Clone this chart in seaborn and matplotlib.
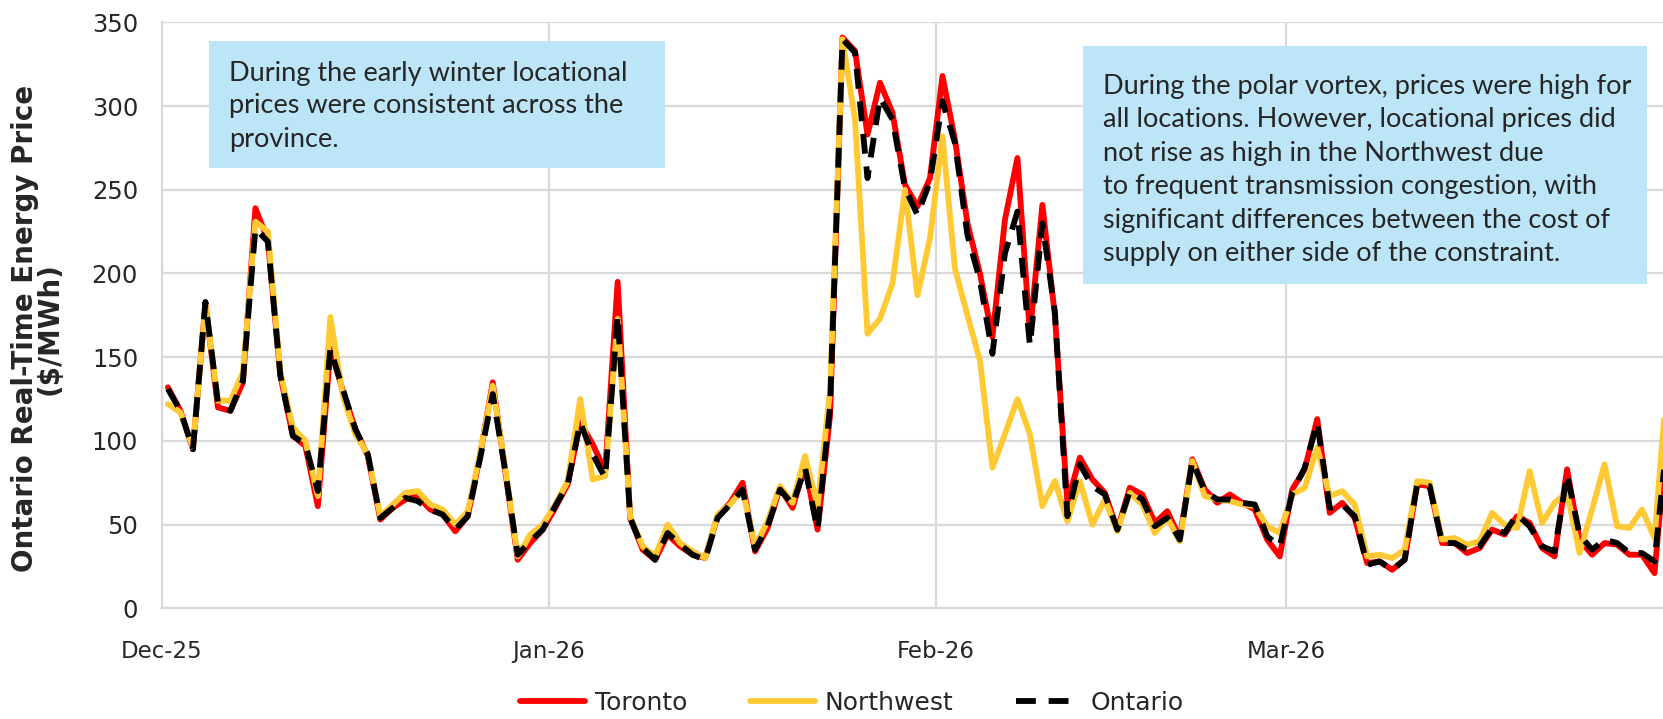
import pandas as pd
import numpy as np
import matplotlib
matplotlib.use("Agg")
import matplotlib.pyplot as plt
import matplotlib.dates as mdates
from matplotlib.patches import Rectangle
import seaborn as sns

# daily real-time prices, Dec 1 2025 .. Mar 31 2026 ($/MWh)
dates = pd.date_range("2025-12-01", "2026-03-31", freq="D")

toronto = [132, 118, 95, 182, 120, 118, 135, 239, 220, 139, 103, 97, 61, 155, 130, 107, 91, 53, 60, 65,
           67, 59, 56, 46, 55, 92, 135, 82, 29, 39, 47, 60, 74, 111, 98, 82, 195, 54, 35, 29,
           44, 37, 32, 30, 55, 63, 75, 34, 48, 72, 60, 85, 47, 115, 341, 333, 283, 314, 296, 253,
           240, 257, 318, 280, 230, 200, 162, 232, 269, 164, 241, 175, 63, 90, 77, 69, 47, 72, 68, 51,
           58, 42, 89, 71, 63, 68, 63, 59, 41, 31, 71, 83, 113, 57, 63, 54, 27, 28, 23, 29,
           74, 73, 39, 39, 33, 36, 47, 44, 55, 51, 36, 31, 83, 41, 32, 39, 38, 32, 32, 21, 105]

northwest = [122, 117, 96, 181, 124, 124, 141, 231, 225, 141, 108, 100, 67, 174, 127, 104, 92, 55, 62, 69,
             70, 62, 59, 50, 58, 93, 133, 84, 31, 44, 50, 62, 76, 125, 77, 79, 173, 55, 37, 31,
             50, 39, 34, 30, 56, 62, 71, 37, 52, 73, 63, 91, 61, 130, 340, 292, 164, 173, 194, 250,
             187, 221, 282, 203, 175, 148, 84, 104, 125, 104, 61, 76, 52, 76, 50, 65, 46, 69, 62, 45,
             54, 40, 88, 67, 65, 64, 62, 61, 49, 45, 68, 72, 96, 67, 70, 62, 31, 32, 30, 35,
             76, 75, 41, 42, 38, 40, 57, 50, 48, 82, 51, 63, 69, 33, 59, 86, 49, 48, 59, 42, 135]

ontario = [131, 118, 95, 183, 123, 118, 136, 227, 219, 139, 103, 98, 70, 155, 131, 107, 92, 54, 60, 66,
           64, 59, 56, 47, 55, 90, 128, 82, 32, 40, 47, 61, 74, 111, 92, 78, 175, 54, 36, 29,
           45, 38, 32, 29, 54, 62, 71, 35, 49, 71, 62, 84, 47, 120, 340, 332, 257, 305, 292, 251,
           235, 255, 303, 278, 223, 196, 152, 212, 237, 157, 230, 177, 55, 86, 73, 68, 47, 70, 65, 49,
           54, 41, 88, 70, 65, 65, 63, 62, 43, 37, 69, 84, 111, 60, 62, 55, 26, 28, 23, 29,
           74, 73, 39, 39, 35, 37, 48, 45, 56, 49, 37, 34, 80, 44, 35, 41, 39, 33, 33, 28, 100]

note_winter = "During the early winter locational\nprices were consistent across the\nprovince."
note_vortex = ("During the polar vortex, prices were high for\n"
               "all locations. However, locational prices did\n"
               "not rise as high in the Northwest due\n"
               "to frequent transmission congestion, with\n"
               "significant differences between the cost of\n"
               "supply on either side of the constraint.")

# Excel plots each day in the middle of its date slot
df = pd.DataFrame({"date": dates + pd.Timedelta(hours=12),
                   "Toronto": toronto, "Northwest": northwest, "Ontario": ontario})

sns.set_theme(style="white")
plt.rcParams["font.family"] = ["DejaVu Sans"]

W, H = 1663, 719
fig = plt.figure(figsize=(W / 100, H / 100), dpi=100)
ax = fig.add_axes([161.7 / W, (H - 608.3) / H, (W - 161.7) / W, (608.3 - 22.4) / H])

grid_c = "#D9D9D9"
lw = 4.2
sns.lineplot(data=df, x="date", y="Toronto", ax=ax, color="#FF0000", lw=lw, label="Toronto")
sns.lineplot(data=df, x="date", y="Northwest", ax=ax, color="#FFC934", lw=lw, label="Northwest")
sns.lineplot(data=df, x="date", y="Ontario", ax=ax, color="black", lw=lw, label="Ontario",
             linestyle=(0, (3.4, 2.2)))

ax.set_ylim(0, 350)
ax.set_yticks(range(0, 351, 50))
ax.set_xlim(pd.Timestamp("2025-12-01"), pd.Timestamp("2025-12-01") + pd.Timedelta(days=120.18))
ax.xaxis.set_major_locator(mdates.MonthLocator())
ax.xaxis.set_major_formatter(mdates.DateFormatter("%b-%y"))
ax.grid(True, color=grid_c, lw=1.6)
ax.set_axisbelow(True)
for s in ["top", "right"]:
    ax.spines[s].set_visible(False)
for s in ["left", "bottom"]:
    ax.spines[s].set_color(grid_c)
    ax.spines[s].set_linewidth(1.6)
ax.tick_params(axis="y", length=0, pad=17, labelsize=17.5)
ax.tick_params(axis="x", length=0, pad=23, labelsize=16.5)
ax.set_xlabel("")
ax.set_ylabel("Ontario Real-Time Energy Price\n($/MWh)", fontsize=20, fontweight="bold",
              linespacing=0.85)
ax.yaxis.set_label_coords(-0.065, 0.477)

ax.get_legend().remove()
handles, labels = ax.get_legend_handles_labels()
fig.legend(handles, labels, loc="center", bbox_to_anchor=(852 / W, 1 - 703 / H), ncol=3,
           frameon=False, handlelength=2.6, columnspacing=2.5, handletextpad=0.4,
           prop={"size": 18})

box_c = "#BDE5F8"
fig.patches.append(Rectangle((209 / W, 1 - 168 / H), 456 / W, 127 / H, transform=fig.transFigure,
                             facecolor=box_c, edgecolor="none", zorder=5))
fig.text(229 / W, 1 - 106 / H, note_winter, fontsize=19.5, family=["Lato", "DejaVu Sans"],
         va="center", ha="left", linespacing=1.4, zorder=6)
fig.patches.append(Rectangle((1083 / W, 1 - 284 / H), 564 / W, 238 / H, transform=fig.transFigure,
                             facecolor=box_c, edgecolor="none", zorder=5))
fig.text(1103 / W, 1 - 170 / H, note_vortex, fontsize=19.5, family=["Lato", "DejaVu Sans"],
         va="center", ha="left", linespacing=1.42, zorder=6)

fig.savefig("out.png", dpi=100)
